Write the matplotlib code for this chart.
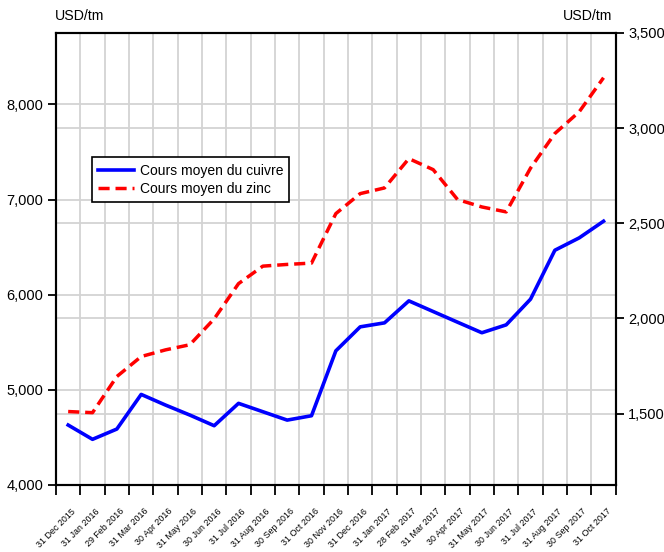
import matplotlib
matplotlib.use("Agg")
import matplotlib.pyplot as plt
import matplotlib.transforms as mtransforms
import numpy as np

plt.rcParams['font.family'] = ['Liberation Sans', 'DejaVu Sans']

# Data
dates = ['31 Dec 2015', '31 Jan 2016', '29 Feb 2016', '31 Mar 2016', '30 Apr 2016',
         '31 May 2016', '30 Jun 2016', '31 Jul 2016', '31 Aug 2016', '30 Sep 2016',
         '31 Oct 2016', '30 Nov 2016', '31 Dec 2016', '31 Jan 2017', '28 Feb 2017',
         '31 Mar 2017', '30 Apr 2017', '31 May 2017', '30 Jun 2017', '31 Jul 2017',
         '31 Aug 2017', '30 Sep 2017', '31 Oct 2017']
copper = [4630, 4480, 4588, 4952, 4840, 4735, 4623, 4858, 4770, 4682,
          4728, 5410, 5662, 5704, 5935, 5823, 5711, 5600, 5683, 5953,
          6467, 6597, 6772]
zinc = [1511, 1505, 1695, 1800, 1835, 1862, 1998, 2183, 2275, 2284,
        2291, 2551, 2656, 2686, 2840, 2782, 2625, 2586, 2560, 2790,
        2972, 3086, 3265]
left_ticks = [4000, 5000, 6000, 7000, 8000]
right_ticks = [1500, 2000, 2500, 3000, 3500]

x = np.arange(len(dates))
grid_color = '#d3d3d3'

fig = plt.figure(figsize=(6.64, 5.52), dpi=100)
# right axis drawn first (behind), left axis on top with transparent patch
ax2 = fig.add_axes([56 / 664, 67 / 552, 559.7 / 664, 452 / 552])
ax1 = ax2.twinx()
ax1.set_zorder(ax2.get_zorder() + 1)
ax1.patch.set_visible(False)

ax1.yaxis.tick_left()
ax2.yaxis.tick_right()

ax1.set_ylim(4000, 8750)
ax2.set_ylim(1125, 3500)
ax2.set_xlim(-0.5, len(dates) - 0.5)

# x ticks: boundaries (major, with grid) and centers (minor, labels)
ax2.set_xticks(np.arange(-0.5, len(dates), 1.0))
ax2.set_xticklabels([])
ax2.set_xticks(x, minor=True)
ax2.set_xticklabels(dates, minor=True, rotation=45, ha='right', va='center',
                    rotation_mode='anchor', fontsize=6.4)
ax2.tick_params(axis='x', which='major', length=7, width=1.3, direction='out')
ax2.tick_params(axis='x', which='minor', length=0, pad=0)
offset = mtransforms.ScaledTranslation(6 / 100, -25 / 100, fig.dpi_scale_trans)
for lab in ax2.get_xticklabels(minor=True):
    lab.set_transform(lab.get_transform() + offset)
ax1.tick_params(axis='x', which='both', bottom=False, labelbottom=False)

# gridlines, all behind the lines
ax2.grid(axis='x', which='major', color=grid_color, linewidth=1.3)
ax2.set_yticks(right_ticks)
ax2.set_yticklabels([f'{v:,}' for v in right_ticks], fontsize=10.5)
ax2.grid(axis='y', color=grid_color, linewidth=1.3)
for v in left_ticks:
    ax2.plot([-0.5, len(dates) - 0.5], [v, v], transform=ax1.transData,
             color=grid_color, linewidth=1.3, zorder=0.5)

ax1.set_yticks(left_ticks)
ax1.set_yticklabels([f'{v:,}' for v in left_ticks], fontsize=10.5)
ax1.tick_params(axis='y', length=6, width=1.3, pad=3)
ax2.tick_params(axis='y', length=6, width=1.3, pad=3)

for ax in (ax1, ax2):
    for sp in ax.spines.values():
        sp.set_linewidth(1.5)
        sp.set_color('black')

# series
l_zinc, = ax2.plot(x, zinc, color='#ff0000', linewidth=2.5, linestyle=(0, (3.2, 1.7)),
                   label='Cours moyen du zinc', zorder=3)
l_cu, = ax1.plot(x, copper, color='#0000ff', linewidth=2.6,
                 label='Cours moyen du cuivre', zorder=3)

leg = ax1.legend([l_cu, l_zinc], ['Cours moyen du cuivre', 'Cours moyen du zinc'],
                 loc='upper left', bbox_to_anchor=(0.064, 0.725), borderaxespad=0,
                 fancybox=False, framealpha=1, edgecolor='black', fontsize=10,
                 handlelength=2.6, handletextpad=0.4, labelspacing=0.3,
                 borderpad=0.45)
leg.get_frame().set_linewidth(1.2)

fig.text(55 / 664, 1 - 16 / 552, 'USD/tm', fontsize=10.2, ha='left', va='center')
fig.text(612 / 664, 1 - 16 / 552, 'USD/tm', fontsize=10.2, ha='right', va='center')

fig.savefig('out.png', dpi=100)
